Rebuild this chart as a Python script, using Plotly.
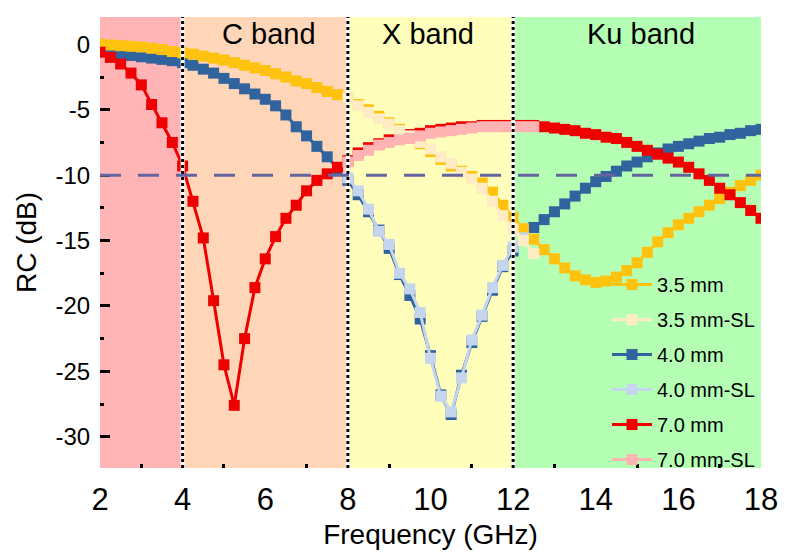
import plotly.graph_objects as go

# ---------------- data ----------------
freq = [2.0, 2.25, 2.5, 2.75, 3.0, 3.25, 3.5, 3.75,
        4.0, 4.25, 4.5, 4.75, 5.0, 5.25, 5.5, 5.75,
        6.0, 6.25, 6.5, 6.75, 7.0, 7.25, 7.5, 7.75,
        8.0, 8.25, 8.5, 8.75, 9.0, 9.25, 9.5, 9.75,
        10.0, 10.25, 10.5, 10.75, 11.0, 11.25, 11.5, 11.75,
        12.0, 12.25, 12.5, 12.75, 13.0, 13.25, 13.5, 13.75,
        14.0, 14.25, 14.5, 14.75, 15.0, 15.25, 15.5, 15.75,
        16.0, 16.25, 16.5, 16.75, 17.0, 17.25, 17.5, 17.75, 18.0]

rc_35 = [0.0, -0.05, -0.1, -0.15, -0.2, -0.3, -0.4, -0.55,
         -0.65, -0.75, -0.9, -1.05, -1.2, -1.4, -1.6, -1.8,
         -2.0, -2.25, -2.5, -2.8, -3.0, -3.3, -3.6, -3.85,
         -4.1, -4.6, -5.0, -5.5, -6.0, -6.5, -7.0, -7.6,
         -8.2, -8.8, -9.3, -9.7, -10.1, -10.6, -11.3, -12.3,
         -13.2, -14.1, -14.9, -15.7, -16.4, -17.1, -17.7, -18.0,
         -18.2, -18.1, -17.8, -17.3, -16.7, -15.9, -15.1, -14.4,
         -13.8, -13.3, -12.8, -12.3, -11.8, -11.3, -10.8, -10.4, -10.0]

rc_40 = [-0.5, -0.6, -0.75, -0.85, -0.95, -1.05, -1.15, -1.25,
         -1.4, -1.6, -1.9, -2.2, -2.6, -3.0, -3.4, -3.8,
         -4.2, -4.7, -5.4, -6.3, -7.0, -7.8, -8.6, -9.5,
         -10.4, -11.5, -12.8, -14.2, -15.6, -17.6, -19.2, -21.0,
         -23.8, -26.8, -28.3, -25.3, -22.8, -20.8, -18.8, -17.0,
         -15.8, -14.8, -14.0, -13.4, -12.8, -12.2, -11.6, -11.0,
         -10.5, -10.1, -9.7, -9.3, -9.0, -8.6, -8.3, -8.0,
         -7.8, -7.6, -7.4, -7.2, -7.1, -6.9, -6.8, -6.6, -6.5]

rc_70 = [-0.6, -1.0, -1.5, -2.2, -3.1, -4.6, -6.0, -7.5,
         -9.3, -12.0, -14.8, -19.6, -24.5, -27.6, -22.5, -18.6,
         -16.4, -14.7, -13.3, -12.3, -11.2, -10.4, -9.9, -9.4,
         -8.9, -8.3, -7.9, -7.6, -7.3, -7.1, -6.9, -6.8,
         -6.6, -6.5, -6.4, -6.3, -6.3, -6.2, -6.2, -6.2,
         -6.2, -6.2, -6.2, -6.3, -6.4, -6.5, -6.6, -6.8,
         -6.9, -7.1, -7.2, -7.5, -7.8, -8.1, -8.4, -8.7,
         -9.0, -9.4, -9.9, -10.4, -11.0, -11.5, -12.1, -12.7, -13.3]

freq_sl = [8.0, 8.25, 8.5, 8.75, 9.0, 9.25, 9.5, 9.75, 10.0, 10.25,
           10.5, 10.75, 11.0, 11.25, 11.5, 11.75, 12.0, 12.25, 12.5]
rc_35_sl = [-4.1, -4.7, -5.2, -5.7, -6.1, -6.6, -7.0, -7.5, -8.0, -8.6,
            -9.1, -9.8, -10.3, -11.0, -12.0, -13.1, -14.1, -15.0, -16.0]
rc_40_sl = [-10.2, -11.2, -12.6, -14.3, -15.3, -17.5, -18.7, -20.5, -24.0, -26.9,
            -28.1, -25.5, -22.6, -20.7, -18.6, -16.9, -15.5, -14.8]
rc_70_sl = [-9.0, -8.5, -8.1, -7.7, -7.5, -7.3, -7.2, -7.0, -6.8, -6.7,
            -6.6, -6.5, -6.4, -6.3, -6.3, -6.3, -6.3, -6.3, -6.3]

series_names = ["3.5 mm", "3.5 mm-SL", "4.0 mm", "4.0 mm-SL", "7.0 mm", "7.0 mm-SL"]

band_edges = [2, 4, 8, 12, 18]
band_names = ["", "C band", "X band", "Ku band"]
band_label_x = [3, 6.1, 9.95, 15.1]
threshold = -10

yticks = [0, -5, -10, -15, -20, -25, -30]
ytick_text = ["0", "-5", "-10", "-15", "-20", "-25", "-30"]
xticks = [2, 4, 6, 8, 10, 12, 14, 16, 18]

# ---------------- styles ----------------
band_colors = ["#FFB5B5", "#FFD7B8", "#FFFFBB", "#B5FFB5"]
colors = {
    "3.5 mm": "#FFC20E", "3.5 mm-SL": "#FFEBC4",
    "4.0 mm": "#31649E", "4.0 mm-SL": "#C5D5EE",
    "7.0 mm": "#EE0000", "7.0 mm-SL": "#FFB3B3",
}
zorders = {"3.5 mm": 2, "3.5 mm-SL": 5, "4.0 mm": 1, "4.0 mm-SL": 4, "7.0 mm": 3, "7.0 mm-SL": 6}
xs = {"3.5 mm": freq, "3.5 mm-SL": freq_sl, "4.0 mm": freq, "4.0 mm-SL": freq_sl[:len(rc_40_sl)],
      "7.0 mm": freq, "7.0 mm-SL": freq_sl}
ys = {"3.5 mm": rc_35, "3.5 mm-SL": rc_35_sl, "4.0 mm": rc_40, "4.0 mm-SL": rc_40_sl,
      "7.0 mm": rc_70, "7.0 mm-SL": rc_70_sl}

FONT = "Arial, Liberation Sans, sans-serif"

fig = go.Figure()
for i, name in enumerate(series_names):
    fig.add_trace(go.Scatter(
        x=xs[name], y=ys[name], mode="lines+markers", name=name,
        line=dict(color=colors[name], width=3),
        marker=dict(symbol="square", size=11, color=colors[name]),
        legendgroup=name, zorder=zorders[name],
    ))

shapes = []
for i in range(len(band_edges) - 1):
    shapes.append(dict(type="rect", xref="x", yref="paper", x0=band_edges[i], x1=band_edges[i + 1],
                       y0=0, y1=1, fillcolor=band_colors[i], line=dict(width=0), layer="below"))
for e in band_edges[1:-1]:
    shapes.append(dict(type="line", xref="x", yref="paper", x0=e, x1=e, y0=0, y1=1,
                       line=dict(color="white", width=4), layer="above"))
    shapes.append(dict(type="line", xref="x", yref="paper", x0=e, x1=e, y0=0, y1=1,
                       line=dict(color="black", width=3, dash="3px,3px"), layer="above"))
shapes.append(dict(type="line", xref="x", yref="y", x0=band_edges[0], x1=band_edges[-1],
                   y0=threshold, y1=threshold,
                   line=dict(color="#6464A0", width=3, dash="21px,17px"), layer="above"))

annotations = []
for name, bx in zip(band_names, band_label_x):
    if name:
        annotations.append(dict(x=bx, y=0.962, xref="x", yref="paper", text=name, showarrow=False,
                                font=dict(family=FONT, size=29, color="black"),
                                xanchor="center", yanchor="middle"))

fig.update_layout(
    width=790, height=559,
    margin=dict(l=100, r=25, t=12, b=85),
    paper_bgcolor="white", plot_bgcolor="white",
    shapes=shapes, annotations=annotations,
    showlegend=True,
    legend=dict(x=0.767, y=0.45, xanchor="left", yanchor="top",
                bgcolor="rgba(0,0,0,0)", borderwidth=0,
                font=dict(family=FONT, size=20, color="black"),
                tracegroupgap=6, itemwidth=40),
    font=dict(family=FONT, color="black"),
)
fig.update_xaxes(
    range=[2, 18], tickvals=xticks, ticks="", showgrid=False, zeroline=False,
    showline=True, linecolor="black", linewidth=5, mirror=True,
    tickfont=dict(family=FONT, size=31, color="black"),
    minor=dict(ticks="inside", tickvals=[3, 5, 7, 9, 11, 13, 15, 17], ticklen=4, tickwidth=3, tickcolor="black"),
    title=dict(text="Frequency (GHz)", font=dict(family=FONT, size=28, color="black"), standoff=10),
)
fig.update_yaxes(
    range=[-32.39, 2.09], tickvals=yticks, ticktext=ytick_text, ticks="inside", ticklen=10,
    tickwidth=3, tickcolor="black", showgrid=False, zeroline=False,
    showline=True, linecolor="black", linewidth=5, mirror=True,
    tickfont=dict(family=FONT, size=24, color="black"),
    minor=dict(ticks="inside", tickvals=[-2.5, -7.5, -12.5, -17.5, -22.5, -27.5], ticklen=4, tickwidth=3, tickcolor="black"),
    title=dict(text="RC (dB)", font=dict(family=FONT, size=28, color="black"), standoff=12),
)

fig.write_html("out.html")
